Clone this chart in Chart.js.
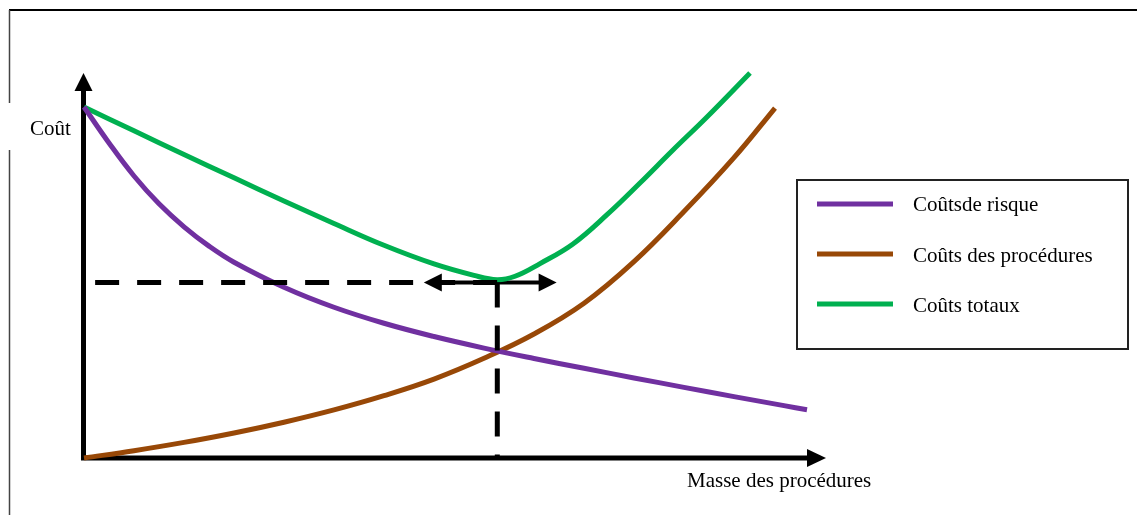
<!DOCTYPE html>
<html lang="fr">
<head>
<meta charset="utf-8">
<title>Coûts de risque et coûts des procédures</title>
<script src="https://cdn.jsdelivr.net/npm/chart.js@4.4.1/dist/chart.umd.min.js"></script>
<style>
  html, body { margin: 0; padding: 0; background: #fff; }
  #wrap { position: relative; width: 1137px; height: 515px; }
</style>
</head>
<body>
<div id="wrap"><canvas id="chart"></canvas></div>
<script>
// Masse des procédures (x) vs Coût (y), arbitrary units 0-100

const seriesLabels = ["Coûtsde risque", "Coûts des procédures", "Coûts totaux"];
const seriesColors = ["#7030A0", "#984807", "#00B050"];

const risqueX = [0, 3.37, 6.74, 10.11, 13.48, 16.85, 20.22, 26.95, 33.69, 40.43, 47.17, 53.91, 60.65, 67.39, 74.12, 80.86, 87.6, 94.34, 97.44];
const risqueY = [91.17, 81.82, 73.25, 66.03, 60.05, 55.04, 50.86, 44.36, 39.16, 35.0, 31.55, 28.55, 25.85, 23.3, 20.8, 18.35, 15.95, 13.6, 12.53];

const proceduresX = [0, 6.74, 13.48, 20.22, 26.95, 33.69, 40.43, 47.17, 53.91, 60.65, 67.39, 74.12, 80.86, 87.6, 93.13];
const proceduresY = [0, 1.9, 4.05, 6.5, 9.3, 12.5, 16.2, 20.5, 25.9, 32.2, 40.2, 51.0, 64.0, 78.0, 90.9];

const totauxX = [0, 6.74, 13.48, 20.22, 26.95, 33.69, 40.43, 47.17, 52.56, 55.66, 58.09, 61.46, 65.9, 70.49, 74.93, 79.38, 83.96, 89.76];
const totauxY = [91.17, 84.97, 78.84, 72.77, 66.77, 60.91, 55.25, 50.4, 47.43, 46.3, 47.2, 50.5, 55.6, 63.2, 71.43, 80.0, 88.57, 100];

// optimum and the double arrow around it
const optimumX = 55.7;
const optimumY = 45.6;
const dashStartX = 1.5;
const arrowFromX = 45.8;
const arrowToX = 63.7;

const yTitle = "Coût";
const xTitle = "Masse des procédures";

const FONT = "21px 'Liberation Serif', 'Times New Roman', serif";

function toPoints(xs, ys) {
  return xs.map((x, i) => ({ x: x, y: ys[i] }));
}

function arrowHead(ctx, tipX, tipY, dx, dy, len, half) {
  // dx, dy: unit direction the arrow points to
  const bx = tipX - dx * len, by = tipY - dy * len;
  ctx.beginPath();
  ctx.moveTo(tipX, tipY);
  ctx.lineTo(bx - dy * half, by + dx * half);
  ctx.lineTo(bx + dy * half, by - dx * half);
  ctx.closePath();
  ctx.fill();
}

// axes with arrows, the double arrow at the optimum
const arrowsPlugin = {
  id: "arrows",
  beforeDatasetsDraw(chart) {
    const ctx = chart.ctx;
    const sx = chart.scales.x, sy = chart.scales.y;
    const x0 = sx.getPixelForValue(0) - 0.5;
    const y0 = sy.getPixelForValue(0);
    const yTop = sy.getPixelForValue(100);
    const xEnd = sx.getPixelForValue(100);

    ctx.save();
    ctx.fillStyle = "#000";
    ctx.strokeStyle = "#000";
    ctx.lineWidth = 5;
    ctx.beginPath();
    ctx.moveTo(x0, y0 + 2.5);
    ctx.lineTo(x0, yTop + 15);
    ctx.moveTo(x0 - 2.5, y0);
    ctx.lineTo(xEnd - 15, y0);
    ctx.stroke();
    arrowHead(ctx, x0, yTop, 0, -1, 18, 9);
    arrowHead(ctx, xEnd, y0, 1, 0, 19, 9);

    // double arrow
    const ay = sy.getPixelForValue(optimumY);
    const ax1 = sx.getPixelForValue(arrowFromX);
    const ax2 = sx.getPixelForValue(arrowToX);
    ctx.lineWidth = 4;
    ctx.beginPath();
    ctx.moveTo(ax1 + 10, ay);
    ctx.lineTo(ax2 - 10, ay);
    ctx.stroke();
    arrowHead(ctx, ax1, ay, -1, 0, 18, 9);
    arrowHead(ctx, ax2, ay, 1, 0, 18, 9);
    ctx.restore();
  },
  afterDraw(chart) {
    const ctx = chart.ctx;
    ctx.save();

    // outer frame (top and left only)
    ctx.strokeStyle = "#000";
    ctx.lineWidth = 2;
    ctx.beginPath();
    ctx.moveTo(9, 10);
    ctx.lineTo(1137, 10);
    ctx.stroke();
    ctx.strokeStyle = "#444";
    ctx.lineWidth = 1.5;
    ctx.beginPath();
    ctx.moveTo(9.5, 10);
    ctx.lineTo(9.5, 103);
    ctx.moveTo(9.5, 150);
    ctx.lineTo(9.5, 515);
    ctx.stroke();

    // axis titles
    ctx.fillStyle = "#000";
    ctx.font = FONT;
    ctx.textBaseline = "alphabetic";
    ctx.textAlign = "left";
    ctx.fillText(yTitle, 30, 135);
    ctx.fillText(xTitle, 687, 487);

    // legend
    ctx.strokeStyle = "#222";
    ctx.lineWidth = 2;
    ctx.strokeRect(797, 180, 331, 169);
    seriesLabels.forEach((label, i) => {
      const ly = 204 + i * 50;
      ctx.strokeStyle = seriesColors[i];
      ctx.lineWidth = 5;
      ctx.beginPath();
      ctx.moveTo(817, ly);
      ctx.lineTo(893, ly);
      ctx.stroke();
      ctx.fillStyle = "#000";
      ctx.fillText(label, 913, 211 + i * 50.5);
    });
    ctx.restore();
  }
};

const curve = (i, xs, ys) => ({
  label: seriesLabels[i],
  data: toPoints(xs, ys),
  borderColor: seriesColors[i],
  borderWidth: 5,
  pointRadius: 0,
  tension: 0.4,
  clip: false,
  order: 2
});

new Chart(document.getElementById("chart"), {
  type: "line",
  data: {
    datasets: [
      curve(0, risqueX, risqueY),
      curve(1, proceduresX, proceduresY),
      curve(2, totauxX, totauxY),
      {
        label: "optimum-h",
        data: [{ x: dashStartX, y: optimumY }, { x: optimumX, y: optimumY }],
        borderColor: "#000",
        borderWidth: 5,
        borderDash: [24, 18],
        pointRadius: 0,
        clip: false,
        order: 1
      },
      {
        label: "optimum-v",
        data: [{ x: optimumX, y: optimumY }, { x: optimumX, y: 0 }],
        borderColor: "#000",
        borderWidth: 5,
        borderDash: [25, 18],
        pointRadius: 0,
        clip: false,
        order: 1
      }
    ]
  },
  plugins: [arrowsPlugin],
  options: {
    animation: false,
    responsive: true,
    maintainAspectRatio: false,
    layout: { padding: { left: 84, right: 311, top: 73, bottom: 57 } },
    scales: {
      x: { type: "linear", min: 0, max: 100, display: false },
      y: { type: "linear", min: 0, max: 100, display: false }
    },
    plugins: {
      legend: { display: false },
      tooltip: { enabled: false }
    }
  }
});
</script>
</body>
</html>
